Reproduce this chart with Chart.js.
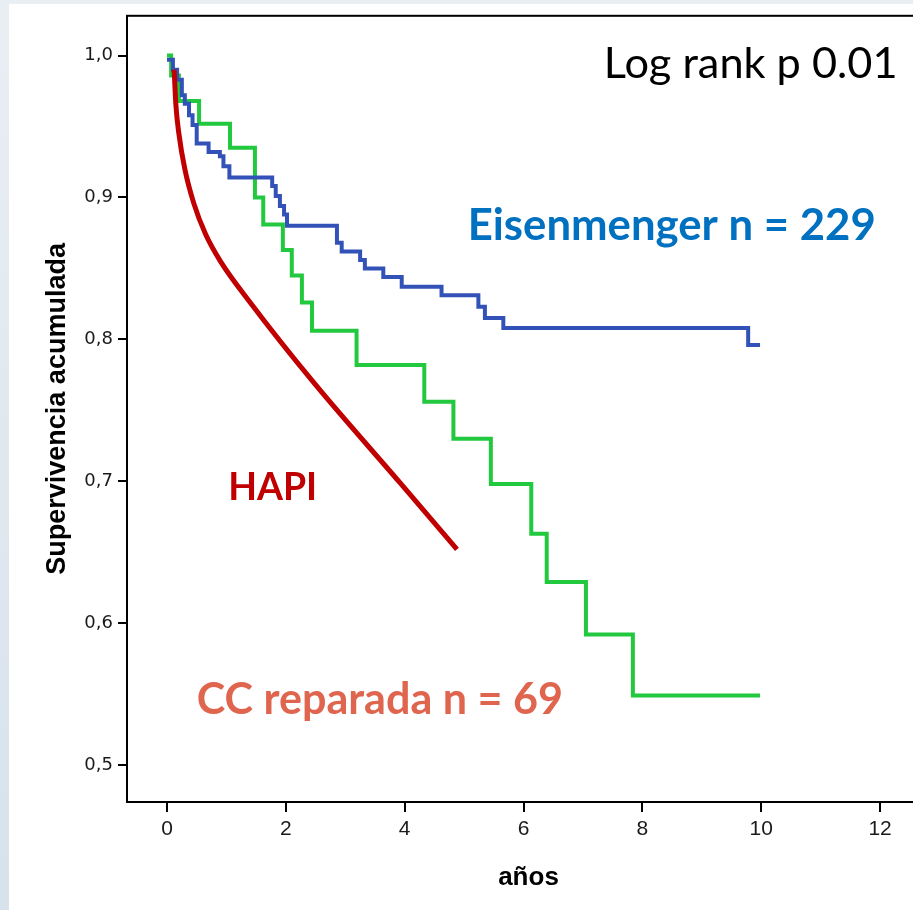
<!DOCTYPE html>
<html lang="es">
<head>
    <meta charset="UTF-8">
    <title>Supervivencia acumulada</title>
    <script src="https://cdn.jsdelivr.net/npm/chart.js"></script>
    <style>
        html, body { margin: 0; padding: 0; overflow: hidden; }
        body { width: 913px; height: 910px; background: linear-gradient(to bottom, #e9eef3, #d7e2ec); position: relative; }
        #panel { position: absolute; left: 9px; top: 4px; right: 0; bottom: 0; background: #fff; }
        #wrap { position: absolute; left: 0; top: 0; width: 940px; height: 910px; }
    </style>
</head>
<body>
    <div id="panel"></div>
    <div id="wrap"><canvas id="kmChart"></canvas></div>

    <script>
        // Kaplan-Meier curves, values
        const eisenTimes = [0, 0.1, 0.17, 0.25, 0.3, 0.37, 0.43, 0.5, 0.7, 0.89, 0.95, 1.05, 1.77, 1.83, 1.9, 1.97, 2.02, 2.86, 2.94, 3.25, 3.33, 3.64, 3.95, 4.62, 5.24, 5.35, 5.66, 9.78, 9.98];
        const eisenSurv = [0.997, 0.99, 0.983, 0.972, 0.966, 0.958, 0.951, 0.938, 0.932, 0.929, 0.922, 0.914, 0.908, 0.901, 0.894, 0.888, 0.880, 0.868, 0.862, 0.856, 0.850, 0.844, 0.837, 0.831, 0.823, 0.815, 0.808, 0.796, 0.796];

        const ccTimes = [0, 0.07, 0.2, 0.54, 1.06, 1.48, 1.62, 1.95, 2.1, 2.27, 2.44, 3.19, 4.33, 4.82, 5.45, 6.13, 6.39, 7.05, 7.84, 9.98];
        const ccSurv = [1.0, 0.986, 0.968, 0.952, 0.935, 0.9, 0.881, 0.863, 0.845, 0.826, 0.806, 0.782, 0.756, 0.73, 0.698, 0.663, 0.629, 0.592, 0.549, 0.549];

        const hapiTimes = [0.12, 0.15, 0.2, 0.3, 0.45, 0.65, 0.9, 1.4, 2.46, 3.92, 4.88];
        const hapiSurv = [0.99, 0.965, 0.945, 0.92, 0.896, 0.874, 0.855, 0.826, 0.77, 0.699, 0.652];

        const xTicks = [0, 2, 4, 6, 8, 10, 12];
        const yTicks = [0.5, 0.6, 0.7, 0.8, 0.9, 1.0];

        const toPoints = (xs, ys) => xs.map((x, i) => ({ x: x, y: ys[i] }));

        // text labels inside the plot: [text, colour, bold, left x, baseline y (data units), target width px]
        const labels = [
            ['Log rank p 0.01', '#000000', false, 7.35, 0.984, 294],
            ['Eisenmenger n = 229', '#0070C0', true, 5.06, 0.87, 408],
            ['HAPI', '#C00000', true, 1.03, 0.687, 89],
            ['CC reparada n = 69', '#E0654F', true, 0.5, 0.536, 366]
        ];

        const boxPlugin = {
            id: 'box',
            afterDraw(chart) {
                const { ctx, chartArea: a, scales } = chart;
                ctx.save();
                ctx.strokeStyle = '#000';
                ctx.lineWidth = 2;
                ctx.strokeRect(a.left, a.top, a.right - a.left + 20, a.bottom - a.top);
                labels.forEach(([text, color, bold, x, y, w]) => {
                    const fam = bold ? 'bold {s}px Lato, "Open Sans", sans-serif' : '{s}px Lato, "Open Sans", sans-serif';
                    ctx.font = fam.replace('{s}', 40);
                    const size = 40 * w / ctx.measureText(text).width;
                    ctx.font = fam.replace('{s}', size.toFixed(1));
                    ctx.fillStyle = color;
                    ctx.textBaseline = 'alphabetic';
                    ctx.textAlign = 'left';
                    ctx.fillText(text, scales.x.getPixelForValue(x), scales.y.getPixelForValue(y));
                });
                ctx.restore();
            }
        };

        const ctx = document.getElementById('kmChart').getContext('2d');
        new Chart(ctx, {
            type: 'line',
            data: {
                datasets: [
                    {
                        label: 'HAPI',
                        data: toPoints(hapiTimes, hapiSurv),
                        borderColor: '#C00000',
                        borderWidth: 5,
                        cubicInterpolationMode: 'monotone',
                        pointRadius: 0
                    },
                    {
                        label: 'Eisenmenger',
                        data: toPoints(eisenTimes, eisenSurv),
                        borderColor: '#3352B8',
                        borderWidth: 4,
                        stepped: 'before',
                        pointRadius: 0
                    },
                    {
                        label: 'CC reparada',
                        data: toPoints(ccTimes, ccSurv),
                        borderColor: '#22C83E',
                        borderWidth: 4,
                        stepped: 'before',
                        pointRadius: 0
                    }
                ]
            },
            options: {
                responsive: true,
                maintainAspectRatio: false,
                animation: false,
                layout: { padding: { left: 0, top: 12, right: 10, bottom: 0 } },
                plugins: {
                    legend: { display: false },
                    tooltip: { enabled: false }
                },
                scales: {
                    x: {
                        type: 'linear',
                        min: -0.673,
                        max: 12.84,
                        afterBuildTicks: s => { s.ticks = xTicks.map(v => ({ value: v })); },
                        afterFit: s => { s.height = 108; },
                        border: { display: false },
                        grid: { drawOnChartArea: false, color: '#000', lineWidth: 2, tickLength: 10 },
                        ticks: {
                            color: '#1a1a1a',
                            padding: 5,
                            maxRotation: 0,
                            font: { family: '"Liberation Sans Narrow", "Liberation Sans", Arial', size: 21 }
                        },
                        title: {
                            display: true,
                            text: 'años',
                            color: '#000',
                            padding: { bottom: 17 },
                            font: { family: '"Liberation Sans", Arial', size: 26, weight: 'bold' }
                        }
                    },
                    y: {
                        type: 'linear',
                        min: 0.474,
                        max: 1.028,
                        afterBuildTicks: s => { s.ticks = yTicks.map(v => ({ value: v })); },
                        afterFit: s => { s.width = 127; },
                        border: { display: false },
                        grid: { drawOnChartArea: false, color: '#000', lineWidth: 2, tickLength: 9 },
                        ticks: {
                            color: '#1a1a1a',
                            padding: 5,
                            font: { family: '"DejaVu Sans", Arial', size: 18 },
                            callback: v => v.toFixed(1).replace('.', ',')
                        },
                        title: {
                            display: true,
                            text: 'Supervivencia acumulada',
                            color: '#000',
                            padding: { top: 41 },
                            font: { family: '"Liberation Sans", Arial', size: 27, weight: 'bold' }
                        }
                    }
                }
            },
            plugins: [boxPlugin]
        });
    </script>
</body>
</html>
